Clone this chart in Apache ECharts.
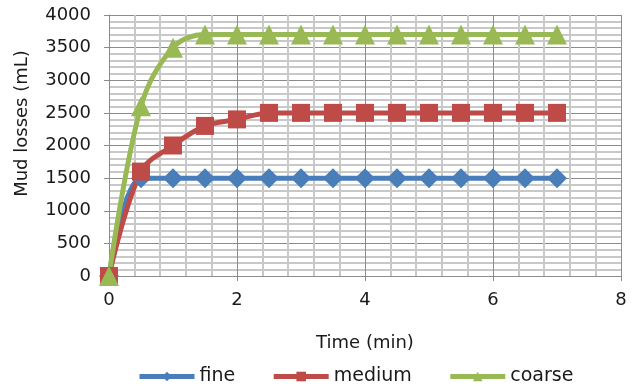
<!DOCTYPE html>
<html>
<head>
<meta charset="utf-8">
<script src="https://cdn.jsdelivr.net/npm/echarts@6/dist/echarts.min.js"></script>
<style>
  html, body { margin: 0; padding: 0; background: #fff; }
  #chart { width: 636px; height: 391px; }
</style>
</head>
<body>
<div id="chart"></div>
<script>
// time (min) and mud losses (mL)
const times = [0, 0.5, 1, 1.5, 2, 2.5, 3, 3.5, 4, 4.5, 5, 5.5, 6, 6.5, 7];
const fine = [0, 1500, 1500, 1500, 1500, 1500, 1500, 1500, 1500, 1500, 1500, 1500, 1500, 1500, 1500];
const medium = [0, 1600, 2000, 2300, 2400, 2500, 2500, 2500, 2500, 2500, 2500, 2500, 2500, 2500, 2500];
const coarse = [0, 2600, 3500, 3700, 3700, 3700, 3700, 3700, 3700, 3700, 3700, 3700, 3700, 3700, 3700];

const font = '"DejaVu Sans", sans-serif';
const txt = '#1a1a1a';

function pairs(ys) {
  return times.map((t, i) => [t, ys[i]]);
}

function line(name, ys, color, symbol, size) {
  return {
    name: name,
    type: 'line',
    data: pairs(ys),
    smooth: 0.35,
    symbol: symbol,
    symbolSize: size,
    lineStyle: { color: color, width: 5 },
    itemStyle: { color: color },
    z: 3
  };
}

const chart = echarts.init(document.getElementById('chart'));
chart.setOption({
  animation: false,
  grid: { left: 109, right: 15, top: 15, bottom: 115 },
  xAxis: {
    type: 'value',
    min: 0, max: 8, interval: 2,
    name: 'Time (min)',
    nameLocation: 'middle',
    nameGap: 58,
    nameTextStyle: { color: txt, fontSize: 18, fontFamily: font },
    axisLine: { lineStyle: { color: '#8c8c8c', width: 1 } },
    axisTick: { show: true, length: 5, lineStyle: { color: '#8c8c8c' } },
    axisLabel: { color: txt, fontSize: 18, fontFamily: font, margin: 15 },
    splitLine: { show: true, lineStyle: { color: '#8c8c8c', width: 1 } },
    minorTick: { show: false, splitNumber: 5 },
    minorSplitLine: { show: true, lineStyle: { color: '#c8c8c8', width: 2 } }
  },
  yAxis: {
    type: 'value',
    min: 0, max: 4000, interval: 500,
    name: 'Mud losses (mL)',
    nameLocation: 'middle',
    nameGap: 78,
    nameRotate: 90,
    nameTextStyle: { color: txt, fontSize: 18, fontFamily: font, padding: [0, 0, 0, 44] },
    axisLine: { show: true, lineStyle: { color: '#8c8c8c', width: 1 } },
    axisTick: { show: true, length: 5, lineStyle: { color: '#8c8c8c' } },
    axisLabel: { color: txt, fontSize: 18, fontFamily: font, margin: 18, formatter: v => String(v) },
    splitLine: { show: true, lineStyle: { color: '#8c8c8c', width: 1 } },
    minorTick: { show: false, splitNumber: 5 },
    minorSplitLine: { show: true, lineStyle: { color: '#c8c8c8', width: 2 } }
  },
  legend: {
    bottom: 0,
    left: 132,
    itemWidth: 55,
    itemHeight: 12,
    itemGap: 36,
    lineStyle: { width: 5 },
    textStyle: { color: txt, fontSize: 19, fontFamily: font },
    data: ['fine', 'medium', 'coarse']
  },
  series: [
    line('fine', fine, '#4a7ebb', 'diamond', 20),
    line('medium', medium, '#be4b48', 'rect', 18),
    line('coarse', coarse, '#98b954', 'triangle', 20)
  ]
});
</script>
</body>
</html>
